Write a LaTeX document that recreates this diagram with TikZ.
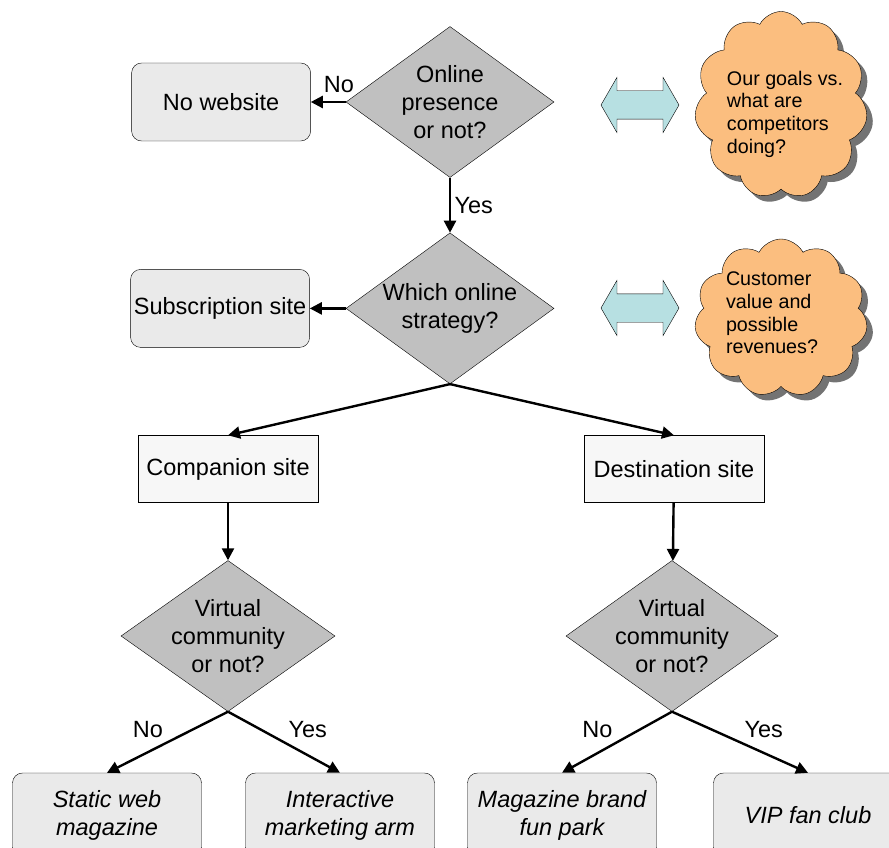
\documentclass[tikz,border=0pt]{standalone}
\usepackage{fontspec}
\setmainfont{Liberation Sans}
\usetikzlibrary{shapes,arrows.meta,positioning,shadows}
\definecolor{decgray}{RGB}{192,192,192}
\definecolor{boxgray}{RGB}{234,234,234}
\definecolor{sitegray}{RGB}{247,247,247}
\definecolor{cloudorange}{RGB}{251,190,127}
\definecolor{arrowblue}{RGB}{183,224,226}
\newcommand\bigfont{\fontsize{23.5}{28}\selectfont}
\newcommand\cloudfont{\fontsize{19.7}{22.7}\selectfont}

\begin{document}
\begin{tikzpicture}[
x=1pt, y=-1pt,
node distance=35pt,
font=\bigfont,
>={Triangle[length=12pt,width=12pt]},
decision/.style={
  diamond,
  draw,
  fill=decgray,
  inner sep=-12pt,
  aspect=1.4,
  minimum width=208pt,
  minimum height=151pt,
  align=center},
endbox/.style={
  rectangle,
  rounded corners=10pt,
  draw,
  fill=boxgray,
  minimum width=179pt,
  minimum height=78pt,
  inner sep=2pt,
  align=center},
sitebox/.style={
  rectangle,
  draw,
  fill=sitegray,
  minimum width=180pt,
  minimum height=67pt},
leafbox/.style={
  endbox,
  minimum width=189pt,
  minimum height=84pt,
  font=\bigfont\itshape},
thought/.style={
  cloud,
  cloud puffs=11,
  cloud puff arc=125,
  cloud ignores aspect,
  draw,
  fill=cloudorange,
  minimum width=173pt,
  inner sep=0pt,
  drop shadow={shadow xshift=6pt, shadow yshift=-6pt, opacity=1, fill=black!55}},
cloudtext/.style={align=left, font=\cloudfont},
twoway/.style={
  double arrow,
  draw,
  fill=arrowblue,
  minimum height=78pt,
  inner xsep=0pt,
  inner ysep=14pt,
  double arrow head extend=13.5pt,
  double arrow tip angle=120},
link/.style={->, line width=2.4pt}
]
\useasboundingbox (0,0) rectangle (889,848);

\node[decision] (online) at (450,102) {Online\\presence\\or not?};
\node[endbox, left=of online] (nowebsite) {No website};
\node[decision, below=55pt of online] (strategy) {Which online\\strategy?};
\node[endbox, left=36pt of strategy] (subscription) {Subscription site};
\node[sitebox] (companion) at (228,469) {Companion site};
\node[sitebox] (destination) at (674,469) {Destination site};
\node[decision, minimum width=214pt] (community) at (228,636) {Virtual\\community\\or not?};
\node[decision, minimum width=212pt] (destcommunity) at (672,636) {Virtual\\community\\or not?};
\node[leafbox] (static) at (107,815) {Static web\\magazine};
\node[leafbox] (interactive) at (340,815) {Interactive\\marketing arm};
\node[leafbox] (brand) at (562,815) {Magazine brand\\fun park};
\node[leafbox] (vipclub) at (808,815) {VIP fan club};

\node[twoway] (goalsarrow) at (640,105) {};
\node[twoway] (valuearrow) at (640,308) {};
\node[thought, minimum height=187pt] (goals) at (781,105) {};
\node[cloudtext] (goalstext) at (785,114) {Our goals vs.\\what are\\competitors\\doing?};
\node[thought, minimum height=158pt] (value) at (781,318) {};
\node[cloudtext] (valuetext) at (772,313) {Customer\\value and\\possible\\revenues?};

\draw[link] (online) -- node[above=5pt, pos=0.2]{No} (nowebsite);
\draw[link] (online) -- node[right]{Yes} (strategy);
\draw[link] (strategy) -- (subscription);
\draw[link] (strategy.south) -- (companion.north);
\draw[link] (strategy.south) -- (destination.north);
\draw[link] (companion) -- (community);
\draw[link] (destination) -- (destcommunity);
\draw[link] (community.south) -- node[above left]{No} (static.north);
\draw[link] (community.south) -- node[above right]{Yes} (interactive.north);
\draw[link] (destcommunity.south) -- node[above left]{No} (brand.north);
\draw[link] (destcommunity.south) -- node[above right]{Yes} (vipclub.north);
\end{tikzpicture}
\end{document}
